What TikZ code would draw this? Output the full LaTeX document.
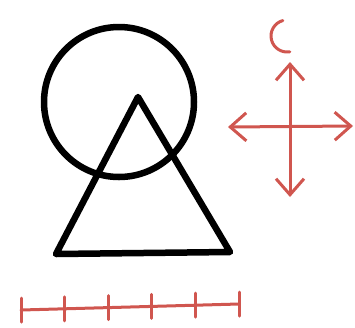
\documentclass[tikz,border=0pt]{standalone}
\usepackage{xcolor}
\usepackage{tikz}
\usetikzlibrary{arrows.meta,calc}
\definecolor{sketchred}{HTML}{D0564F}

\begin{document}
\begin{tikzpicture}[
  x=1pt, y=-1pt,
  ink/.style={draw, line width=6.5pt, line join=round, line cap=round},
  pen/.style={draw=sketchred, line width=3pt, line cap=round, line join=round},
  arrow/.style={pen, {Straight Barb[length=16pt, width=28pt]}-{Straight Barb[length=16pt, width=28pt]}},
]
\useasboundingbox (0,0) rectangle (355,327);

% Shapes
\coordinate (ctr) at (119,102);
\coordinate (apex) at (138,97);
\coordinate (baseL) at (56,254);
\coordinate (baseR) at (230,252);
\draw[ink] (ctr) circle [radius=75];
\draw[ink] (apex) -- (baseR) -- (baseL) -- cycle;

% Cross
\coordinate (west) at (228,127);
\coordinate (east) at (353,126);
\coordinate (north) at (290,62);
\coordinate (south) at (290,197);
\draw[arrow] (west) -- (east);
\draw[arrow] (north) -- (south);
\coordinate (cmark) at (287,36);
\draw[pen] ($(cmark)+(255:16)$) arc[start angle=255, end angle=80, radius=16];

% Ruler
\coordinate (r0) at (21,310);
\coordinate (r5) at (239,304);
\draw[pen] (r0) -- (r5);
\foreach \i in {0,...,5}
  \draw[pen] ($(r0)!\i/5!(r5)+(0,-12)$) -- ++(0,24);

\end{tikzpicture}
\end{document}
